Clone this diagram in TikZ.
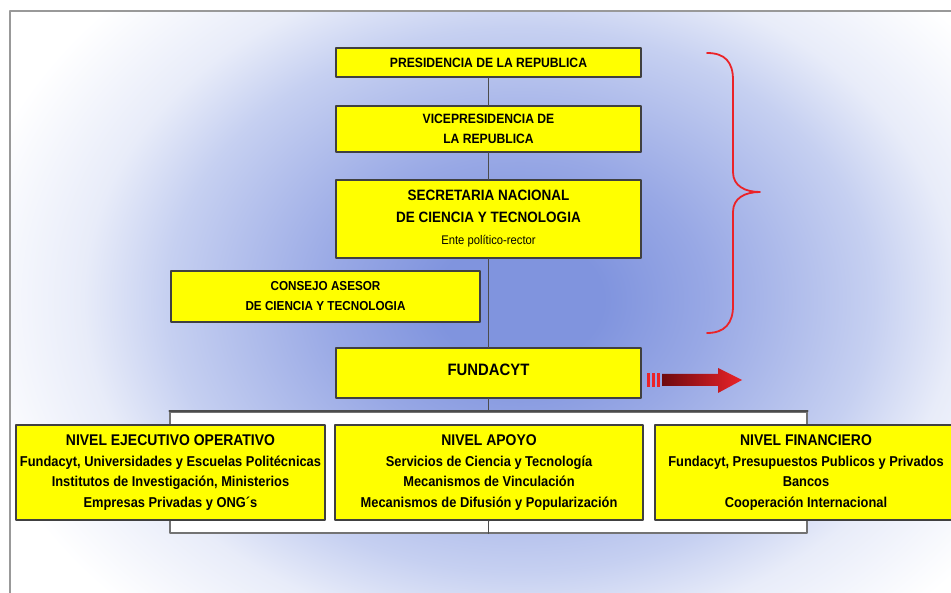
\documentclass[tikz,border=0pt]{standalone}
\usepackage{fontspec}
\setmainfont{Liberation Sans}[FakeStretch=0.9]
\definecolor{azulfondo}{RGB}{128,148,222}
\definecolor{azulmedio}{RGB}{152,168,229}
\definecolor{azulclaro}{RGB}{198,208,241}
\definecolor{azulpalido}{RGB}{232,236,249}
\definecolor{amarillo}{RGB}{255,255,0}
\definecolor{rojo}{RGB}{235,35,40}
\definecolor{rojooscuro}{RGB}{110,10,15}
\pgfdeclareradialshading{fondo}{\pgfpoint{0bp}{0bp}}{color(0bp)=(azulfondo); color(4bp)=(azulfondo); color(9bp)=(azulmedio); color(17bp)=(azulclaro); color(21bp)=(azulpalido); color(27bp)=(white); color(50bp)=(white)}
\newcommand{\titulo}[1]{{\fontsize{15.5}{20.5}\selectfont #1}}

\begin{document}
\begin{tikzpicture}[line cap=round,line join=round,x=1pt,y=-1pt,
caja/.style={draw=black!75,line width=1.2pt,fill=amarillo,align=center,inner sep=0pt},
nivel/.style={caja,minimum height=95pt,font=\bfseries\fontsize{14.3}{20.5}\selectfont},
linea/.style={draw=black!70,line width=0.8pt}]
% Fondo y marco
\useasboundingbox (0,0) rectangle (951,593);
\fill[white] (0,0) rectangle (951,593);
\begin{scope}
\clip (10,11) rectangle (951,593);
\shade[shading=fondo] (0,-100) rectangle (1040,700);
\end{scope}
\draw[black!40,line width=2pt] (10,593) -- (10,11) -- (951,11);
% Cajas superiores
\node[caja,minimum width=305pt,minimum height=29pt,
font=\bfseries\fontsize{13.5}{20}\selectfont] (pres) at (488.5,62.5)
{PRESIDENCIA DE LA REPUBLICA};
\node[caja,minimum width=305pt,minimum height=46pt,
font=\bfseries\fontsize{13.5}{20}\selectfont] (vice) at (488.5,129)
{VICEPRESIDENCIA DE\\LA REPUBLICA};
\node[caja,minimum width=305pt,minimum height=78pt,
font=\bfseries\fontsize{15}{22}\selectfont] (senacyt) at (488.5,219)
{SECRETARIA NACIONAL\\DE CIENCIA Y TECNOLOGIA\\
{\mdseries\fontsize{12.5}{22}\selectfont Ente político-rector}};
\node[caja,minimum width=309pt,minimum height=51pt,
font=\bfseries\fontsize{13}{20}\selectfont] (consejo) at (325.5,296.5)
{CONSEJO ASESOR\\DE CIENCIA Y TECNOLOGIA};
\node[caja,minimum width=305pt,minimum height=50pt,
font=\bfseries\fontsize{16.5}{20}\selectfont] (fundacyt) at (488.5,373)
{\raisebox{7pt}{FUNDACYT}};
% Lineas
\draw[linea] (pres) -- (vice);
\draw[linea] (vice) -- (senacyt);
\draw[linea] (senacyt) -- (fundacyt);
% Marco de los niveles
\node[draw=black!55,line width=1.2pt,fill=white,minimum width=637pt,
minimum height=121pt,inner sep=0pt] (niveles) at (488.5,472.5) {};
\draw[black!70,line width=2pt] (niveles.north west) -- (niveles.north east);
\draw[linea] (fundacyt) -- (niveles.north);
% Niveles
\node[nivel,minimum width=309pt] (ejecutivo) at (170.5,472.5)
{\titulo{NIVEL EJECUTIVO OPERATIVO}\\
Fundacyt, Universidades y Escuelas Politécnicas\\
Institutos de Investigación, Ministerios\\
Empresas Privadas y ONG´s};
\node[nivel,minimum width=308pt] (apoyo) at (489,472.5)
{\titulo{NIVEL APOYO}\\
Servicios de Ciencia y Tecnología\\
Mecanismos de Vinculación\\
Mecanismos de Difusión y Popularización};
\node[nivel,minimum width=302pt] (financiero) at (806,472.5)
{\titulo{NIVEL FINANCIERO}\\
Fundacyt, Presupuestos Publicos y Privados\\
Bancos\\
Cooperación Internacional};
\draw[linea] (apoyo) -- (niveles.south);
% Llave roja
\draw[rojo,line width=1.8pt] (707,53) .. controls (725,53) and (733,62) .. (733,80)
-- (733,172) .. controls (733,186) and (745,192) .. (760,192)
.. controls (745,192) and (733,198) .. (733,212)
-- (733,306) .. controls (733,323) and (725,333) .. (707,333);
% Flecha roja
\coordinate (punta) at (742,380);
\foreach \x in {647,652,657}
\fill[rojo] (\x,373) rectangle (\x+2.5,387);
\shade[left color=rojooscuro,right color=rojo] (662,374) -- (718,374) -- (718,368)
-- (punta) -- (718,393) -- (718,386) -- (662,386) -- cycle;
\end{tikzpicture}
\end{document}
